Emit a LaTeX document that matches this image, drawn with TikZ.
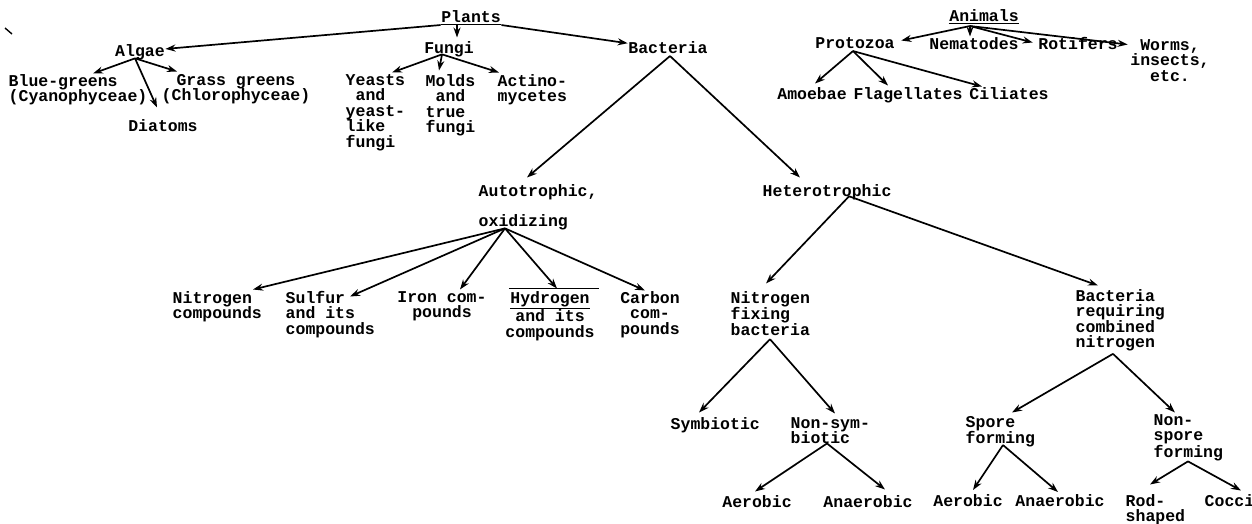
\documentclass[tikz,border=0pt]{standalone}
\usepackage{fontspec}
\setmonofont{Liberation Mono}
\usetikzlibrary{arrows.meta,calc}
\begin{document}
\begin{tikzpicture}[x=1pt,y=-1pt,
  lbl/.style={font=\ttfamily\bfseries\fontsize{16.5}{15.5}\selectfont, inner sep=0.5pt},
  arr/.style={line width=1.7pt, -{Stealth[length=10pt,width=7pt]}},
  uline/.style={line width=1.3pt}]
\fill[white] (0,0) rectangle (1252,523);
\useasboundingbox (0,0) rectangle (1252,523);
% stray mark
\draw[line width=1.4pt] (5,28) -- (12,34);
% ---------- Plants ----------
\node[lbl,anchor=north] (plants) at (471,9.5) {Plants};
\node[lbl,anchor=north] (algae) at (140,43.5) {Algae};
\node[lbl,anchor=north] (fungi) at (449,40.5) {Fungi};
\node[lbl,anchor=north] (bacteria) at (668,40.5) {Bacteria};
\node[lbl,anchor=north west,align=left] (blue) at (8,73.5) {Blue-greens\\(Cyanophyceae)};
\node[lbl,anchor=north,align=center] (grass) at (236,73.5) {Grass greens\\(Chlorophyceae)};
\node[lbl,anchor=north] (diatoms) at (163,118.5) {Diatoms};
\node[lbl,anchor=north west,align=left] (yeasts) at (345,73.5) {Yeasts\\\hphantom{Y}and\\yeast-\\like\\fungi};
\node[lbl,anchor=north west,align=left] (molds) at (425,73.5) {Molds\\\hphantom{M}and\\true\\fungi};
\node[lbl,anchor=north west,align=left] (actino) at (497,73.5) {Actino-\\mycetes};
\node[lbl,anchor=north west,align=left] (auto) at (478,183.5) {Autotrophic,\\[14.5pt]oxidizing};
\node[lbl,anchor=north west] (hetero) at (762,183.5) {Heterotrophic};
\node[lbl,anchor=north west,align=left] (nitroc) at (172,290.5) {Nitrogen\\compounds};
\node[lbl,anchor=north west,align=left] (sulfur) at (285,290.5) {Sulfur\\and its\\compounds};
\node[lbl,anchor=north,align=center] (iron) at (442,290.5) {Iron com-\\pounds};
\node[lbl,anchor=north,align=center] (hydrogen) at (550,290.5) {\underline{Hydrogen}\\and its\\compounds};
\node[lbl,anchor=north,align=center] (carbon) at (650,290.5) {Carbon\\com-\\pounds};
\node[lbl,anchor=north west,align=left] (nfix) at (730,290.5) {Nitrogen\\fixing\\bacteria};
\node[lbl,anchor=north west,align=left] (brcn) at (1075,288.5) {Bacteria\\requiring\\combined\\nitrogen};
\node[lbl,anchor=north west] (symb) at (670,416.5) {Symbiotic};
\node[lbl,anchor=north west,align=left] (nonsym) at (790,416.5) {Non-sym-\\biotic};
\node[lbl,anchor=north] (aera) at (757,494.5) {Aerobic};
\node[lbl,anchor=north] (anaa) at (868,494.5) {Anaerobic};
\node[lbl,anchor=north west,align=left] (spore) at (965,415.5) {Spore\\forming};
\node[lbl,anchor=north west,align=left] (nonspore) at (1153,413.5) {Non-\\spore\\forming};
\node[lbl,anchor=north] (aerb) at (968,494) {Aerobic};
\node[lbl,anchor=north] (anab) at (1060,494) {Anaerobic};
\node[lbl,anchor=north west,align=left] (rod) at (1125,493.5) {Rod-\\shaped};
\node[lbl,anchor=north west] (cocci) at (1204,493.5) {Cocci};
% ---------- Animals ----------
\node[lbl,anchor=north] (animals) at (984,8.5) {Animals};
\node[lbl,anchor=north] (protozoa) at (855,36.5) {Protozoa};
\node[lbl,anchor=north] (nematodes) at (974,36.5) {Nematodes};
\node[lbl,anchor=north] (rotifers) at (1078,36.5) {Rotifers};
\node[lbl,anchor=north,align=center] (worms) at (1170,38.5) {Worms,\\insects,\\etc.};
\node[lbl,anchor=north] (amoebae) at (812,86.5) {Amoebae};
\node[lbl,anchor=north] (flag) at (908,86.5) {Flagellates};
\node[lbl,anchor=north] (cili) at (1009,86.5) {Ciliates};
% underlines / overline
\draw[uline] ($(plants.south west)+(0,1.5)$) -- ($(plants.south east)+(0,1.5)$);
\draw[uline] ($(animals.south west)+(0,1.5)$) -- ($(animals.south east)+(0,1.5)$);
\draw[uline] ($(hydrogen.north west)+(4,-2)$) -- ($(hydrogen.north east)+(4,-2)$);
% ---------- connectors: plants ----------
\draw[arr] ($(plants.south west)+(0,2)$) -- ($(algae.east)+(0,-3)$);
\draw[arr] ($(plants.south)+(-14,2)$) -- ($(fungi.north)+(8,-3)$);
\draw[arr] ($(plants.south east)+(0,2)$) -- ($(bacteria.west)+(0,-4)$);
\draw[arr] ($(algae.south)+(-5,-2)$) -- ($(blue.north west)+(85,0)$);
\draw[arr] ($(algae.south)+(-5,-2)$) -- ($(grass.north west)+(16,-2)$);
\draw[arr] ($(algae.south)+(-5,-2)$) -- ($(diatoms.north)+(-6,-11)$);
\draw[arr] ($(fungi.south)+(-7,-3)$) -- ($(yeasts.north west)+(47,-1)$);
\draw[arr] ($(fungi.south)+(-7,-3)$) -- ($(molds.north west)+(14,-3)$);
\draw[arr] ($(fungi.south)+(-7,-3)$) -- ($(actino.north west)+(2,-1)$);
\draw[arr] ($(bacteria.south)+(2,2)$) -- ($(auto.north west)+(49,-6)$);
\draw[arr] ($(bacteria.south)+(2,2)$) -- ($(hetero.north west)+(38,-6)$);
\draw[arr] ($(auto.south west)+(27,-2)$) -- ($(nitroc.north west)+(81,-1)$);
\draw[arr] ($(auto.south west)+(27,-2)$) -- ($(sulfur.north west)+(65,6)$);
\draw[arr] ($(auto.south west)+(27,-2)$) -- ($(iron.north)+(18,-1)$);
\draw[arr] ($(auto.south west)+(27,-2)$) -- ($(hydrogen.north)+(7,-2)$);
\draw[arr] ($(auto.south west)+(27,-2)$) -- ($(carbon.north)+(-5,0)$);
\draw[arr] ($(hetero.south)+(22,-4)$) -- ($(nfix.north west)+(36,-7)$);
\draw[arr] ($(hetero.south)+(22,-4)$) -- ($(brcn.north west)+(23,-3)$);
\draw[arr] ($(nfix.south west)+(40,3)$) -- ($(symb.north west)+(29,-4)$);
\draw[arr] ($(nfix.south west)+(40,3)$) -- ($(nonsym.north west)+(45,-3)$);
\draw[arr] ($(nonsym.south west)+(37,-1)$) -- ($(aera.north)+(-2,-3)$);
\draw[arr] ($(nonsym.south west)+(37,-1)$) -- ($(anaa.north)+(17,-5)$);
\draw[arr] ($(brcn.south west)+(38,2)$) -- ($(spore.north west)+(47,-3)$);
\draw[arr] ($(brcn.south west)+(38,2)$) -- ($(nonspore.north west)+(22,-1)$);
\draw[arr] ($(spore.south west)+(38,-3)$) -- ($(aerb.north)+(5,-4)$);
\draw[arr] ($(spore.south west)+(38,-3)$) -- ($(anab.north)+(-2,-2)$);
\draw[arr] ($(nonspore.south west)+(35,0)$) -- ($(rod.north west)+(25,-9)$);
\draw[arr] ($(nonspore.south west)+(35,0)$) -- ($(cocci.north west)+(37,-3)$);
% ---------- connectors: animals ----------
\draw[arr] ($(animals.south)+(-14,4)$) -- ($(protozoa.north east)+(6,4)$);
\draw[arr] ($(animals.south)+(-14,4)$) -- ($(nematodes.north)+(-4,0)$);
\draw[arr] ($(animals.south)+(-14,4)$) -- ($(rotifers.north west)+(-5,6)$);
\draw[arr] ($(animals.south)+(-14,4)$) -- ($(worms.north west)+(-2,6)$);
\draw[arr] ($(protozoa.south)+(-2,2)$) -- ($(amoebae.north)+(3,-3)$);
\draw[arr] ($(protozoa.south)+(-2,2)$) -- ($(flag.north)+(-20,-1)$);
\draw[arr] ($(protozoa.south)+(-2,2)$) -- ($(cili.north)+(-27,0)$);
\end{tikzpicture}
\end{document}
